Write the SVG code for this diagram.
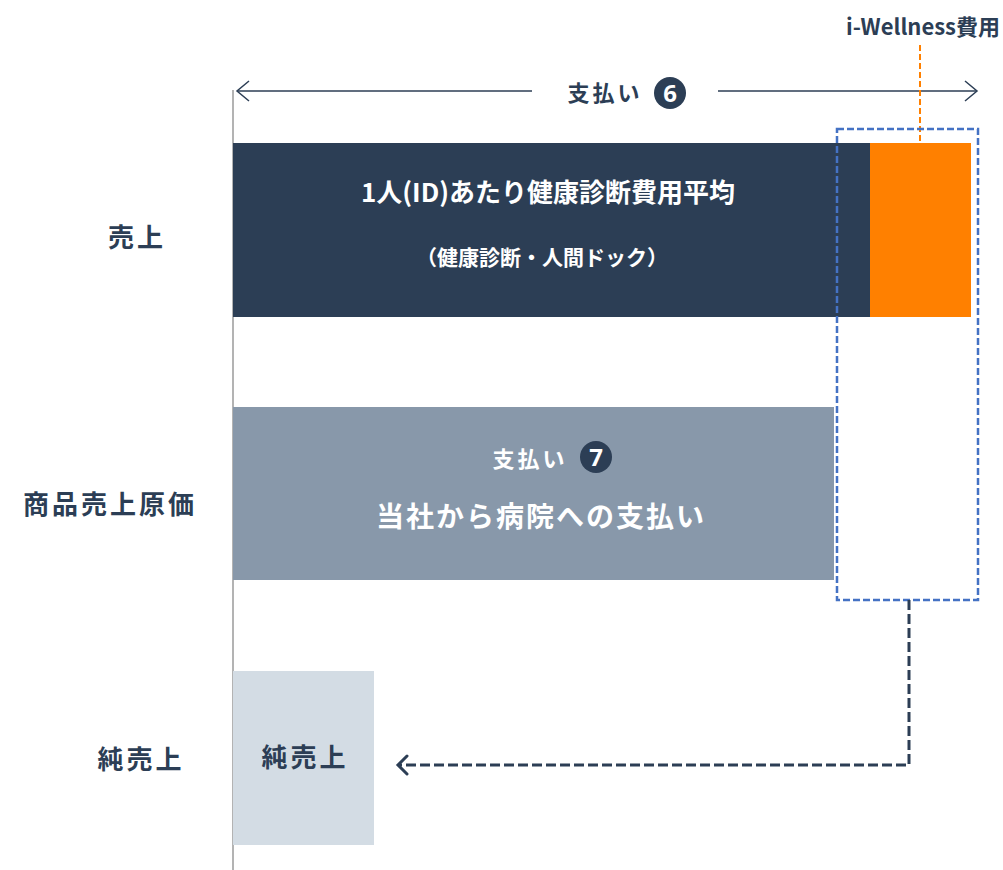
<svg xmlns="http://www.w3.org/2000/svg" width="1003" height="870" viewBox="0 0 1003 870">
<style>
text{font-family:"Noto Sans CJK JP","Noto Sans",sans-serif;font-weight:700}
.lbl{font-size:26px;fill:#2c3e55;text-anchor:middle;letter-spacing:3px}
.w{fill:#ffffff;text-anchor:middle}
.num{font-family:"Open Sans",sans-serif;font-size:24px;fill:#ffffff;text-anchor:middle}
</style>
<rect width="1003" height="870" fill="#ffffff"/>
<line x1="233" y1="90" x2="233" y2="870" stroke="#9a9a9a" stroke-width="1.5"/>
<g id="labels">
<text class="lbl" x="137" y="247">売上</text>
<text class="lbl" x="110" y="514">商品売上原価</text>
<text class="lbl" x="141" y="769">純売上</text>
</g>
<g id="sales">
<rect x="233" y="143" width="637" height="174" fill="#2c3e55"/>
<text class="w" x="548" y="202" font-size="26">1人(ID)あたり健康診断費用平均</text>
<text class="w" x="542" y="265" font-size="21">（健康診断・人間ドック）</text>
</g>
<g id="iwellness">
<rect x="870" y="143" width="101" height="174" fill="#ff8000"/>
<text x="1000" y="35" font-size="22" fill="#2c3e55" text-anchor="end">i-Wellness費用</text>
</g>
<g id="cost">
<rect x="233" y="407" width="601" height="173" fill="#8898aa"/>
<text class="w" x="530" y="467" font-size="22" letter-spacing="3">支払い</text>
<circle cx="596" cy="457" r="16" fill="#2c3e55"/>
<text class="num" x="596" y="466">7</text>
<text class="w" x="541" y="527" font-size="28" letter-spacing="2">当社から病院への支払い</text>
</g>
<g id="net">
<rect x="233" y="671" width="141" height="174" fill="#d3dce4"/>
<text class="lbl" x="305" y="767">純売上</text>
</g>
<g id="payment6">
<text x="605" y="101" font-size="22" fill="#2c3e55" text-anchor="middle" letter-spacing="3">支払い</text>
<circle cx="670" cy="93" r="16" fill="#2c3e55"/>
<text class="num" x="670" y="102">6</text>
</g>
<g id="connectors">
<line x1="237" y1="91" x2="532" y2="91" stroke="#2c3e55" stroke-width="1.5"/>
<path d="M249,81 L237,91 L249,101" fill="none" stroke="#2c3e55" stroke-width="1.5"/>
<line x1="718" y1="91" x2="977" y2="91" stroke="#2c3e55" stroke-width="1.5"/>
<path d="M965,81 L977,91 L965,101" fill="none" stroke="#2c3e55" stroke-width="1.5"/>
<line x1="920" y1="45" x2="920" y2="143" stroke="#ff8000" stroke-width="2" stroke-dasharray="6,3"/>
<rect x="837" y="129" width="141" height="471" fill="none" stroke="#4472c4" stroke-width="2.5" stroke-dasharray="7,3"/>
<path d="M909,600 V765 H400" fill="none" stroke="#2c3e55" stroke-width="3" stroke-dasharray="10,4"/>
<path d="M407,756 L398,765 L407,774" fill="none" stroke="#2c3e55" stroke-width="3" stroke-linecap="round"/>
</g>
</svg>
